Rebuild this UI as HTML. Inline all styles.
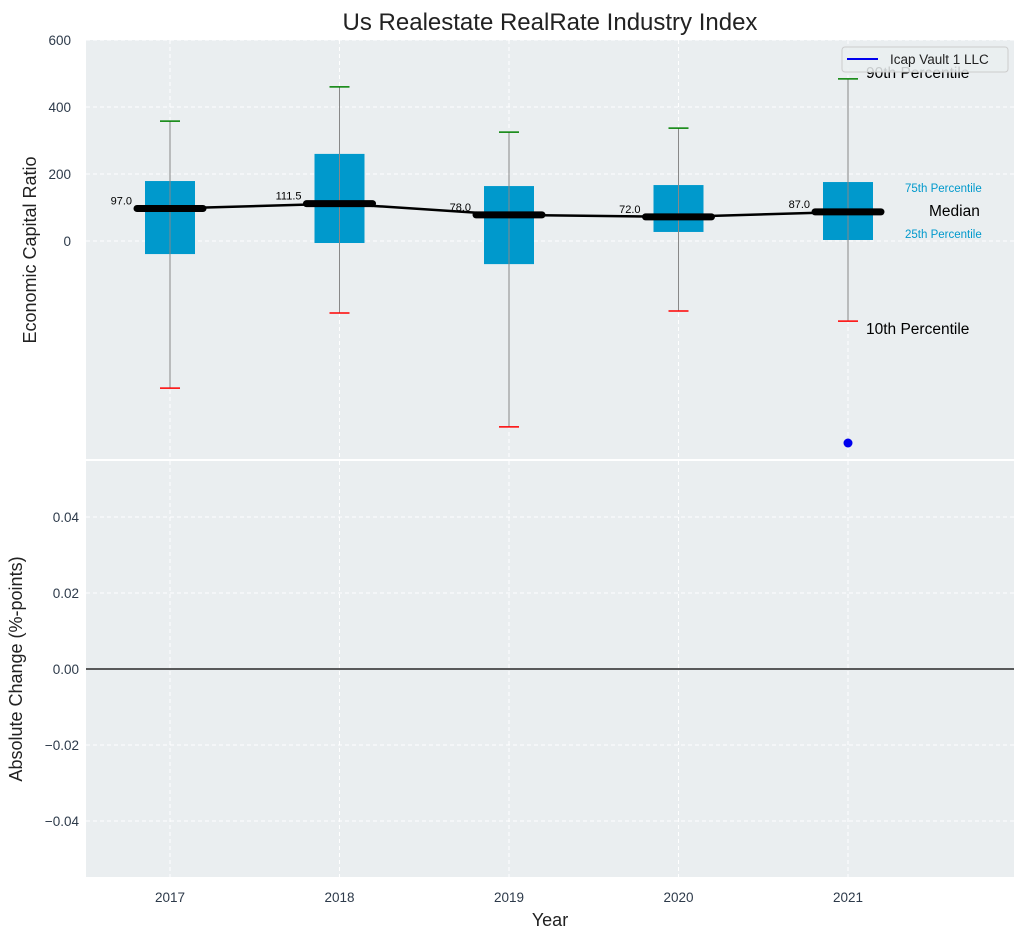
<!DOCTYPE html>
<html><head><meta charset="utf-8"><style>
body{margin:0;background:#fff;}
svg{display:block;font-family:"Liberation Sans","DejaVu Sans",sans-serif;}
</style></head><body>
<svg id="c" width="1025" height="940" xmlns="http://www.w3.org/2000/svg"></svg>
<script>
const years=[2017,2018,2019,2020,2021];
const medians=[97.0,111.5,78.0,72.0,87.0];
const q1=[-39,-6,-69,27,3];
const q3=[179,260,164,167,176];
const p10=[-439,-215,-555,-209,-239];
const p90=[358,460,325,337,484];
const companyYears=[2021];
const companyVals=[-603];
const topTicks=[0,200,400,600];
const botTicks=[-0.04,-0.02,0,0.02,0.04];

const svg=document.getElementById('c');
const NS='http://www.w3.org/2000/svg';
function el(t,a,p){const e=document.createElementNS(NS,t);for(const k in a)e.setAttribute(k,a[k]);(p||svg).appendChild(e);return e;}
const L=86,R=1014,T1=40,B1=459,T2=461,B2=877;
const x=v=>170+(v-2017)*169.5;
const y1=v=>241-v*0.335;
const y2=v=>669-v/0.02*76;

let r=el('rect',{x:L,y:T1,width:R-L,height:B1-T1,fill:'#eaeef0'});

r=el('rect',{x:L,y:T2,width:R-L,height:B2-T2,fill:'#eaeef0'});


years.forEach(yr=>{
 el('line',{x1:x(yr),x2:x(yr),y1:T1,y2:B1,stroke:'#fff','stroke-dasharray':'4,3'});
 el('line',{x1:x(yr),x2:x(yr),y1:T2,y2:B2,stroke:'#fff','stroke-dasharray':'4,3'});
 const t=el('text',{x:x(yr),y:902,'text-anchor':'middle','font-size':13.5,fill:'#2d3a4a'});t.textContent=yr;
 
});
topTicks.forEach(v=>{
 el('line',{x1:L,x2:R,y1:y1(v),y2:y1(v),stroke:'#fff','stroke-dasharray':'4,3'});
 const t=el('text',{x:71,y:y1(v)+5,'text-anchor':'end','font-size':13.5,fill:'#2d3a4a'});t.textContent=v;
 
});
botTicks.forEach(v=>{
 el('line',{x1:L,x2:R,y1:y2(v),y2:y2(v),stroke:'#fff','stroke-dasharray':'4,3'});
 const t=el('text',{x:79,y:y2(v)+5,'text-anchor':'end','font-size':13.5,fill:'#2d3a4a'});t.textContent=(v<0?'\u2212':'')+Math.abs(v).toFixed(2);
 
});
el('line',{x1:L,x2:R,y1:y2(0),y2:y2(0),stroke:'#000','stroke-width':1.2});

const bw=25;
years.forEach((yr,i)=>{
 const cx=x(yr);
 const b=el('rect',{x:cx-bw,y:y1(q3[i]),width:2*bw,height:y1(q1[i])-y1(q3[i]),fill:'#0099cc'});
 
 el('line',{x1:cx,x2:cx,y1:y1(p90[i]),y2:y1(p10[i]),stroke:'#888','stroke-width':1});
 el('line',{x1:cx-10,x2:cx+10,y1:y1(p90[i]),y2:y1(p90[i]),stroke:'green','stroke-width':1.5});
 el('line',{x1:cx-10,x2:cx+10,y1:y1(p10[i]),y2:y1(p10[i]),stroke:'red','stroke-width':1.5});
});
let pts=years.map((yr,i)=>x(yr)+','+y1(medians[i])).join(' ');
let ml=el('polyline',{points:pts,fill:'none',stroke:'#000','stroke-width':2.5});

years.forEach((yr,i)=>{
 const cx=x(yr);
 const m=el('line',{x1:cx-33,x2:cx+33,y1:y1(medians[i]),y2:y1(medians[i]),stroke:'#000','stroke-width':7,'stroke-linecap':'round'});
 
 const t=el('text',{x:cx-38,y:y1(medians[i])-4,'text-anchor':'end','font-size':11,fill:'#000'});t.textContent=medians[i].toFixed(1);
 
});
companyYears.forEach((yr,i)=>{
 const d=el('circle',{cx:x(yr),cy:y1(companyVals[i]),r:4.5,fill:'#0000ee'});
 
});
function txt(s,a,name){const t=el('text',a);t.textContent=s;return t;}
txt('90th Percentile',{x:866,y:78,'font-size':15.5,fill:'#000'},'p90-annotation');
txt('75th Percentile',{x:905,y:192,'font-size':11.5,fill:'#0099cc'},'p75-annotation');
txt('Median',{x:929,y:216,'font-size':15.5,fill:'#000'},'median-annotation');
txt('25th Percentile',{x:905,y:238,'font-size':11.5,fill:'#0099cc'},'p25-annotation');
txt('10th Percentile',{x:866,y:334,'font-size':15.5,fill:'#000'},'p10-annotation');
const lg=el('g',{});
el('rect',{x:842,y:47,width:166,height:25,rx:3,fill:'#eaeef0','fill-opacity':0.85,stroke:'#ccc'},lg);
el('line',{x1:847,x2:878,y1:59,y2:59,stroke:'#0000ee','stroke-width':2},lg);
const lt=el('text',{x:890,y:64,'font-size':13.5,fill:'#222'},lg);lt.textContent='Icap Vault 1 LLC';
txt('Us Realestate RealRate Industry Index',{x:550,y:30,'text-anchor':'middle','font-size':24,fill:'#222'},'chart-title');
txt('Economic Capital Ratio',{x:36,y:250,'text-anchor':'middle','font-size':18,fill:'#222',transform:'rotate(-90 36 250)'},'y-axis-title');
txt('Absolute Change (%-points)',{x:22,y:669,'text-anchor':'middle','font-size':18,fill:'#222',transform:'rotate(-90 22 669)'},'y2-axis-title');
txt('Year',{x:550,y:926,'text-anchor':'middle','font-size':18,fill:'#222'},'x-axis-title');
</script>
</body></html>
